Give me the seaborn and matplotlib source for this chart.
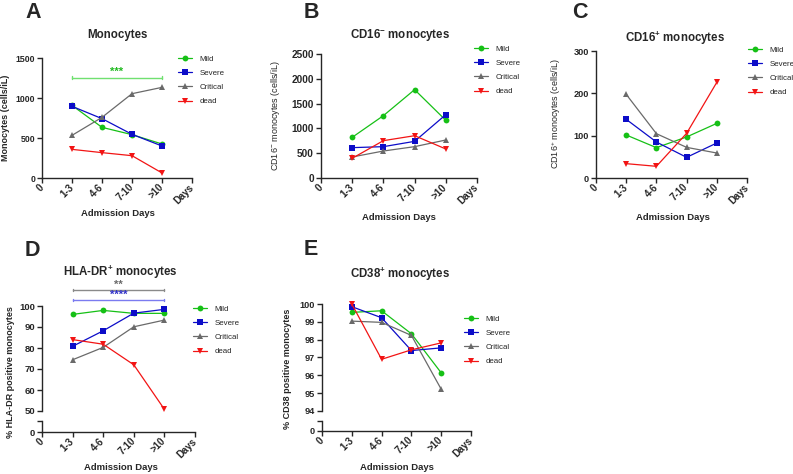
import numpy as np
import pandas as pd
import matplotlib
matplotlib.use('Agg')
import matplotlib.pyplot as plt
import seaborn as sns
from matplotlib.lines import Line2D

# ---------------- data ----------------
days = ['1-3', '4-6', '7-10', '>10']
tick_labels = ['0', '1-3', '4-6', '7-10', '>10', 'Days']
groups = ['Mild', 'Severe', 'Critical', 'dead']

mono_mild = [908, 633, 542, 425]
mono_severe = [896, 742, 546, 400]
mono_critical = [533, 758, 1054, 1133]
mono_dead = [358, 317, 279, 63]

cd16neg_mild = [820, 1257, 1781, 1163]
cd16neg_severe = [612, 632, 739, 1277]
cd16neg_critical = [424, 544, 632, 766]
cd16neg_dead = [397, 753, 853, 585]

cd16pos_mild = [101.6, 71.7, 96.9, 129]
cd16pos_severe = [138.6, 85, 48.8, 82.7]
cd16pos_critical = [197.6, 104.7, 72.4, 59]
cd16pos_dead = [33.9, 27.6, 105.5, 226]

hladr_mild = [96.0, 97.9, 96.5, 96.5]
hladr_severe = [80.8, 88.2, 96.6, 98.4]
hladr_critical = [74.4, 80.3, 90.1, 93.3]
hladr_dead = [84.0, 81.8, 72.0, 50.8]

cd38_mild = [99.53, 99.62, 98.33, 96.14]
cd38_severe = [99.85, 99.23, 97.39, 97.54]
cd38_critical = [99.04, 98.97, 98.24, 95.22]
cd38_dead = [100.0, 96.90, 97.43, 97.82]

# significance annotations
sig_A = [('***', 1254)]
sig_D = [('**', 107.5), ('****', 102.9)]

# ---------------- style ----------------
sns.set_style('ticks')
plt.rcParams['font.family'] = ['Liberation Sans', 'DejaVu Sans']
plt.rcParams['mathtext.default'] = 'regular'
plt.rcParams['axes.linewidth'] = 1.0

palette = {'Mild': '#16c016', 'Severe': '#0c0cc8', 'Critical': '#6a6a6a', 'dead': '#f21414'}
markers = {'Mild': 'o', 'Severe': 's', 'Critical': '^', 'dead': 'v'}
sig_line_col = {'green': '#70e070', 'grey': '#8a8a8a', 'blue': '#7b7bf0'}

W, H = 793, 474
fig = plt.figure(figsize=(W / 100, H / 100), dpi=100)


def px_axes(l, r, t, b):
    return fig.add_axes([l / W, 1 - b / H, (r - l) / W, (b - t) / H])


def make_df(series):
    rows = []
    for g, vals in zip(groups, series):
        for d, v in zip(days, vals):
            rows.append({'group': g, 'pos': tick_labels.index(d), 'value': v})
    return pd.DataFrame(rows)


def draw_lines(ax, series):
    df = make_df(series)
    sns.lineplot(data=df, x='pos', y='value', hue='group', style='group',
                 hue_order=groups, style_order=groups, palette=palette,
                 markers=markers, dashes=False, markersize=4.2, linewidth=0.9,
                 markeredgewidth=0, legend=False, ax=ax, clip_on=False)
    ax.set_xlabel('')
    ax.set_ylabel('')


def style_x(ax, fs):
    ax.set_xlim(0, 5)
    ax.set_xticks(range(len(tick_labels)))
    ax.set_xticklabels(tick_labels, rotation=45, ha='right', va='center',
                       rotation_mode='anchor', fontweight='bold', fontsize=fs)
    ax.tick_params(axis='x', direction='out', length=3.5, width=1, pad=2)


def style_y(ax, fs):
    for lab in ax.get_yticklabels():
        lab.set_fontweight('bold')
        lab.set_fontsize(fs)
    ax.tick_params(axis='y', direction='out', length=3.5, width=1, pad=1.5)
    ax.spines['top'].set_visible(False)
    ax.spines['right'].set_visible(False)


def add_legend(ax, x, y):
    handles = [Line2D([], [], color=palette[g], marker=markers[g], markersize=4.2,
                      markeredgewidth=0, linewidth=0.9) for g in groups]
    ax.legend(handles, groups, loc='upper left', bbox_to_anchor=(x / W, 1 - y / H),
              bbox_transform=fig.transFigure, frameon=False, fontsize=5.7,
              handlelength=1.8, handletextpad=0.9, labelspacing=0.85,
              borderpad=0, borderaxespad=0)


def fig_text(x, y, s, **kw):
    fig.text(x / W, 1 - y / H, s, **kw)


def sig_bar(ax, y, label, line_col, text_col, cap):
    ax.plot([1, 4], [y, y], color=line_col, lw=1, clip_on=False)
    ax.plot([1, 1], [y - cap, y + cap], color=line_col, lw=1, clip_on=False)
    ax.plot([4, 4], [y - cap, y + cap], color=line_col, lw=1, clip_on=False)
    ax.text(2.5, y + cap * 0.3, label, color=text_col, ha='center', va='bottom',
            fontsize=8, fontweight='bold', clip_on=False)


def simple_panel(l, r, t, b, series, ymax, yticks, yfs, xfs):
    ax = px_axes(l, r, t, b)
    draw_lines(ax, series)
    ax.set_ylim(0, ymax)
    ax.set_yticks(yticks)
    ax.set_yticklabels([str(v) for v in yticks])
    style_x(ax, xfs)
    style_y(ax, yfs)
    return ax


def broken_panel(l, r, t, b_upper, t_lower, b, series, ylo, yhi, yticks, yfs, xfs):
    ax = px_axes(l, r, t, b_upper)
    draw_lines(ax, series)
    ax.set_ylim(ylo, yhi)
    ax.set_yticks(yticks)
    ax.set_yticklabels([str(v) for v in yticks])
    ax.set_xlim(0, 5)
    ax.set_xticks([])
    ax.spines['bottom'].set_visible(False)
    style_y(ax, yfs)
    axl = px_axes(l, r, t_lower, b)
    axl.set_ylim(0, 1)
    axl.set_yticks([0, 1])
    axl.set_yticklabels(['0', ''])
    style_x(axl, xfs)
    style_y(axl, yfs)
    return ax, axl


# ---------------- panel A ----------------
axA = simple_panel(42, 192, 58, 178, [mono_mild, mono_severe, mono_critical, mono_dead],
                   1500, [0, 500, 1000, 1500], 6.3, 7)
for lab, yv in sig_A:
    sig_bar(axA, yv, lab, sig_line_col['green'], '#22bb22', 20)
add_legend(axA, 178, 55)
fig_text(117, 35, 'Monocytes', ha='center', va='center', fontsize=8.3, fontweight='bold')
fig_text(118, 214, 'Admission Days', ha='center', va='center', fontsize=6.8, fontweight='bold')
fig_text(6, 118, 'Monocytes (cells/iL)', ha='center', va='center', rotation=90,
         fontsize=6.5, fontweight='bold')
fig_text(25, 18, 'A', ha='left', va='baseline', fontsize=15.5, fontweight='bold')

# ---------------- panel B ----------------
axB = simple_panel(321, 477, 54, 178, [cd16neg_mild, cd16neg_severe, cd16neg_critical, cd16neg_dead],
                   2500, [0, 500, 1000, 1500, 2000, 2500], 7.2, 7.2)
add_legend(axB, 474, 45)
fig_text(400, 35, 'CD16$^{-}$ monocytes', ha='center', va='center', fontsize=8.3, fontweight='bold')
fig_text(399, 217, 'Admission Days', ha='center', va='center', fontsize=6.8, fontweight='bold')
fig_text(276, 116, 'CD16$^{-}$ monocytes (cells/iL)', ha='center', va='center', rotation=90,
         fontsize=6.5, fontweight='medium')
fig_text(304, 18, 'B', ha='left', va='baseline', fontsize=15.5, fontweight='bold')

# ---------------- panel C ----------------
axC = simple_panel(596, 747, 51, 178, [cd16pos_mild, cd16pos_severe, cd16pos_critical, cd16pos_dead],
                   300, [0, 100, 200, 300], 6.6, 7)
add_legend(axC, 748, 46)
fig_text(675, 38, 'CD16$^{+}$ monocytes', ha='center', va='center', fontsize=8.3, fontweight='bold')
fig_text(673, 218, 'Admission Days', ha='center', va='center', fontsize=6.8, fontweight='bold')
fig_text(556, 114, 'CD16$^{+}$ monocytes (cells/iL)', ha='center', va='center', rotation=90,
         fontsize=6.5, fontweight='medium')
fig_text(572, 18, 'C', ha='left', va='baseline', fontsize=15.5, fontweight='bold')

# ---------------- panel D ----------------
axD, axDl = broken_panel(42, 195, 306, 411, 421, 432,
                         [hladr_mild, hladr_severe, hladr_critical, hladr_dead],
                         50, 100, [50, 60, 70, 80, 90, 100], 6.8, 7)
sig_bar(axD, sig_D[0][1], sig_D[0][0], sig_line_col['grey'], '#6a6a6a', 0.55)
sig_bar(axD, sig_D[1][1], sig_D[1][0], sig_line_col['blue'], '#3030c8', 0.55)
add_legend(axD, 193, 305)
fig_text(120, 272, 'HLA-DR$^{+}$ monocytes', ha='center', va='center', fontsize=8.3, fontweight='bold')
fig_text(121, 468, 'Admission Days', ha='center', va='center', fontsize=6.8, fontweight='bold')
fig_text(11, 372, '% HLA-DR positive monocytes', ha='center', va='center', rotation=90,
         fontsize=6.5, fontweight='bold')
fig_text(25, 256, 'D', ha='left', va='baseline', fontsize=15.5, fontweight='bold')

# ---------------- panel E ----------------
axE, axEl = broken_panel(322, 471, 304, 411, 421, 431,
                         [cd38_mild, cd38_severe, cd38_critical, cd38_dead],
                         94, 100, [94, 95, 96, 97, 98, 99, 100], 6.6, 7)
add_legend(axE, 464, 315)
fig_text(400, 274, 'CD38$^{+}$ monocytes', ha='center', va='center', fontsize=8.3, fontweight='bold')
fig_text(397, 468, 'Admission Days', ha='center', va='center', fontsize=6.8, fontweight='bold')
fig_text(288, 369, '% CD38 positive monocytes', ha='center', va='center', rotation=90,
         fontsize=6.5, fontweight='bold')
fig_text(304, 255, 'E', ha='left', va='baseline', fontsize=15.5, fontweight='bold')

fig.savefig('out.png', dpi=100)
